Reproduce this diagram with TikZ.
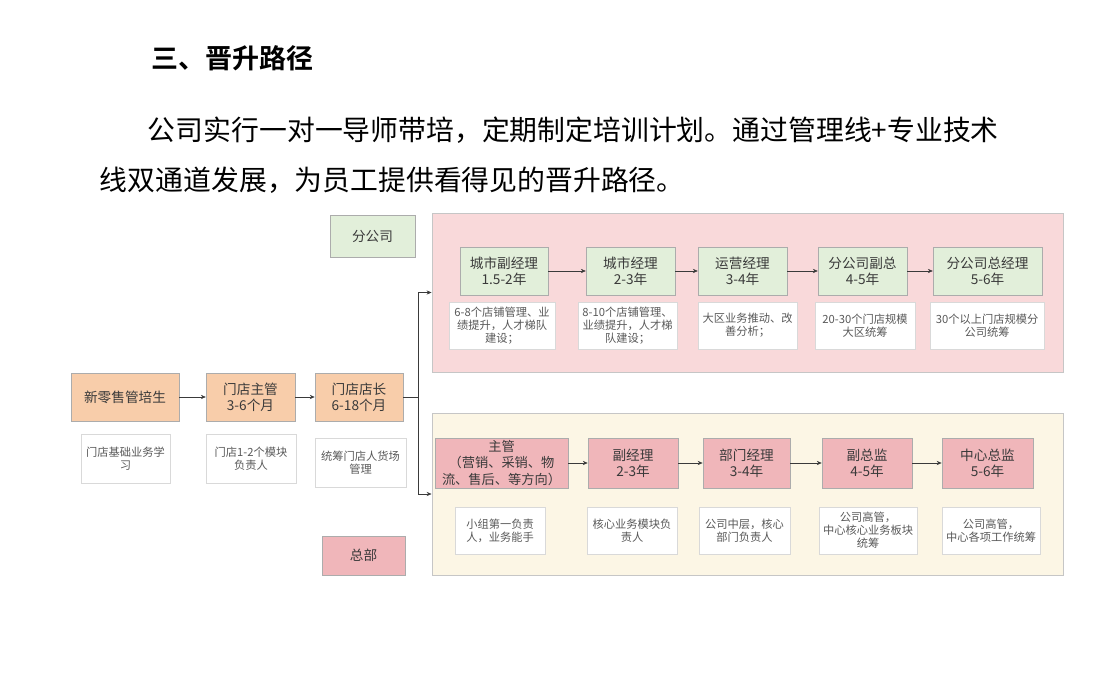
\documentclass[tikz,border=0pt]{standalone}
\usepackage{fontspec}
\setmainfont{Noto Sans CJK SC}[BoldFont={Noto Sans CJK SC Bold}]
\usetikzlibrary{arrows.meta}

\definecolor{branchgreen}{HTML}{E2EFDA}
\definecolor{branchpink}{HTML}{F9D9DA}
\definecolor{hqcream}{HTML}{FCF6E5}
\definecolor{hqpink}{HTML}{F0B6BA}
\definecolor{storeorange}{HTML}{F8CDAA}
\definecolor{inkgray}{HTML}{3A3A3A}

\newcommand{\boxfont}{\fontsize{9.7}{11.4}\selectfont}
\newcommand{\notefont}{\fontsize{8}{9.2}\selectfont}

\begin{document}
\begin{tikzpicture}[x=0.025cm, y=-0.025cm, >={Stealth[length=3.5pt,width=3pt]},
    stage/.style={draw=gray!65, inner sep=1pt, align=center, font=\boxfont, text=inkgray},
    note/.style={draw=gray!30, fill=white, inner sep=1pt, align=center, font=\notefont, text=black!65},
    area/.style={draw=gray!45, inner sep=0pt},
    link/.style={->, draw=inkgray, thin}]
        \useasboundingbox (0,0) rectangle (1111,694);

        % Heading and text
        \node[anchor=west, font=\fontsize{19.2}{22}\selectfont\bfseries] (title) at (147,58) {三、晋升路径};
        \node[anchor=west, font=\fontsize{19.8}{22}\selectfont] (line1) at (143,130) {公司实行一对一导师带培，定期制定培训计划。通过管理线+专业技术};
        \node[anchor=west, font=\fontsize{19.8}{22}\selectfont] (line2) at (95,180) {线双通道发展，为员工提供看得见的晋升路径。};

        % Areas
        \node[area, fill=branchpink, minimum width=15.78cm, minimum height=3.98cm] (brarea) at (747.5,292.5) {};
        \node[area, fill=hqcream, minimum width=15.78cm, minimum height=4.05cm] (hqarea) at (747.5,494) {};
        \node[stage, fill=branchgreen, minimum width=2.12cm, minimum height=1.05cm] (brlabel) at (372.5,236) {分公司};
        \node[stage, fill=hqpink, minimum width=2.08cm, minimum height=0.98cm] (hqlabel) at (363.5,555.5) {总部};

        % Store line
        \node[stage, fill=storeorange, minimum width=2.7cm, minimum height=1.2cm] (trainee) at (125,397) {新零售管培生};
        \node[stage, fill=storeorange, minimum width=2.22cm, minimum height=1.2cm] (super) at (250.5,397) {门店主管\\3-6个月};
        \node[stage, fill=storeorange, minimum width=2.2cm, minimum height=1.2cm] (mgr) at (359,397) {门店店长\\6-18个月};
        \node[note, minimum width=2.22cm, minimum height=1.22cm] (traineenote) at (125.5,458.5) {门店基础业务学\\习};
        \node[note, minimum width=2.25cm, minimum height=1.22cm] (supernote) at (251,458.5) {门店1-2个模块\\负责人};
        \node[note, minimum width=2.28cm, minimum height=1.22cm] (mgrnote) at (360.5,462.5) {统筹门店人货场\\管理};

        \draw[link] (trainee) -- (super);
        \draw[link] (super) -- (mgr);
        \coordinate (fork) at (418,397);
        \draw[inkgray, thin] (mgr.east) -- (fork);
        \draw[link] (fork) |- (brarea.west);
        \draw[link] (fork) |- (hqarea.west);

        % Branch line
        \node[stage, fill=branchgreen, minimum width=2.2cm, minimum height=1.2cm] (b1) at (504,271) {城市副经理\\1.5-2年};
        \node[stage, fill=branchgreen, minimum width=2.22cm, minimum height=1.2cm] (b2) at (630.5,271) {城市经理\\2-3年};
        \node[stage, fill=branchgreen, minimum width=2.22cm, minimum height=1.2cm] (b3) at (742.5,271) {运营经理\\3-4年};
        \node[stage, fill=branchgreen, minimum width=2.22cm, minimum height=1.2cm] (b4) at (862.5,271) {分公司副总\\4-5年};
        \node[stage, fill=branchgreen, minimum width=2.72cm, minimum height=1.2cm] (b5) at (987.5,271) {分公司总经理\\5-6年};
        \node[note, minimum width=2.65cm, minimum height=1.18cm] (b1note) at (502,325.5) {6-8个店铺管理、业\\绩提升，人才梯队\\建设；};
        \node[note, minimum width=2.48cm, minimum height=1.18cm] (b2note) at (627.5,325.5) {8-10个店铺管理、\\业绩提升，人才梯\\队建设；};
        \node[note, minimum width=2.48cm, minimum height=1.18cm] (b3note) at (747.5,325.5) {大区业务推动、改\\善分析；};
        \node[note, minimum width=2.5cm, minimum height=1.18cm] (b4note) at (865,325.5) {20-30个门店规模\\大区统筹};
        \node[note, minimum width=2.85cm, minimum height=1.18cm] (b5note) at (987,325.5) {30个以上门店规模分\\公司统筹};
        \foreach \a/\b in {b1/b2, b2/b3, b3/b4, b4/b5}
            \draw[link] (\a) -- (\b);

        % Headquarters line
        \node[stage, fill=hqpink, minimum width=3.32cm, minimum height=1.25cm, font=\fontsize{9.4}{12}\selectfont] (h1) at (501.5,463) {主管\\（营销、采销、物\\流、售后、等方向）};
        \node[stage, fill=hqpink, minimum width=2.25cm, minimum height=1.25cm] (h2) at (633,463) {副经理\\2-3年};
        \node[stage, fill=hqpink, minimum width=2.18cm, minimum height=1.25cm] (h3) at (746.5,463) {部门经理\\3-4年};
        \node[stage, fill=hqpink, minimum width=2.25cm, minimum height=1.25cm] (h4) at (867,463) {副总监\\4-5年};
        \node[stage, fill=hqpink, minimum width=2.28cm, minimum height=1.25cm] (h5) at (987.5,463) {中心总监\\5-6年};
        \node[note, minimum width=2.25cm, minimum height=1.18cm] (h1note) at (500,530.5) {小组第一负责\\人，业务能手};
        \node[note, minimum width=2.25cm, minimum height=1.18cm] (h2note) at (632,530.5) {核心业务模块负\\责人};
        \node[note, minimum width=2.28cm, minimum height=1.18cm] (h3note) at (744.5,530.5) {公司中层，核心\\部门负责人};
        \node[note, minimum width=2.45cm, minimum height=1.18cm] (h4note) at (868,530.5) {公司高管，\\中心核心业务板块\\统筹};
        \node[note, minimum width=2.45cm, minimum height=1.18cm] (h5note) at (991,530.5) {公司高管，\\中心各项工作统筹};
        \foreach \a/\b in {h1/h2, h2/h3, h3/h4, h4/h5}
            \draw[link] (\a) -- (\b);
\end{tikzpicture}
\end{document}
